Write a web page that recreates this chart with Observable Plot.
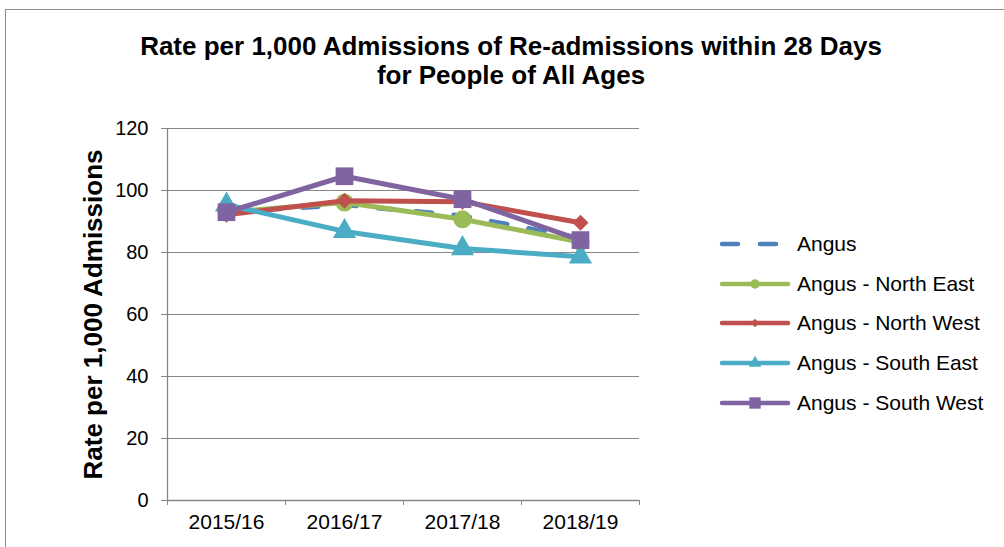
<!DOCTYPE html>
<html>
<head>
<meta charset="utf-8">
<script src="https://cdn.jsdelivr.net/npm/d3@7"></script>
<script src="https://cdn.jsdelivr.net/npm/@observablehq/plot@0.6"></script>
<style>
  html, body { margin: 0; padding: 0; background: #fff; overflow: hidden; }
  body { width: 1004px; height: 547px; position: relative; font-family: "Liberation Sans", Arial, sans-serif; }
  #frame { position: absolute; left: 5px; top: 9px; width: 1100px; height: 700px; border-left: 1px solid #8c8c8c; border-top: 1px solid #8c8c8c; }
  #title { position: absolute; left: 0; width: 1022px; top: 32px; text-align: center; font-weight: bold; font-size: 26px; line-height: 29px; color: #000; }
  #chart { position: absolute; left: 0; top: 0; }
  #legend { position: absolute; left: 700px; top: 220px; }
</style>
</head>
<body>
<div id="frame"></div>
<div id="chart"></div>
<div id="title">Rate per 1,000 Admissions of Re-admissions within 28 Days<br>for People of All Ages</div>
<div id="legend"></div>
<script>
const categories = ["2015/16", "2016/17", "2017/18", "2018/19"];
const seriesNames = ["Angus", "Angus - North East", "Angus - North West", "Angus - South East", "Angus - South West"];
const angus     = [93.0, 95.4, 91.8, 84.6];
const northEast = [93.0, 96.1, 90.7, 83.4];
const northWest = [92.2, 96.7, 96.4, 89.6];
const southEast = [95.4, 86.8, 81.3, 78.6];
const southWest = [93.0, 104.6, 97.2, 84.0];
const yTicks = [0, 20, 40, 60, 80, 100, 120];

const colors = ["#4F81BD", "#9BBB59", "#C0504D", "#4BACC6", "#8064A2"];
const symbols = [null, "circle", "diamond2", "triangle", "square"];
const radii = [0, 9, 7.2, 8.6, 10];
const allValues = [angus, northEast, northWest, southEast, southWest];

const data = [];
allValues.forEach((vals, s) => vals.forEach((v, i) => data.push({series: seriesNames[s], s, i, v})));

const marks = [
  Plot.gridY(yTicks, {stroke: "#868686", strokeOpacity: 1, strokeWidth: 1}),
  Plot.ruleX([-0.5], {stroke: "#868686", strokeWidth: 1.3}),
  Plot.ruleY([0], {stroke: "#868686", strokeWidth: 1.3}),
  Plot.axisY(yTicks, {tickSize: 6, tickPadding: 13, fontSize: 20, stroke: "#868686", label: null}),
  Plot.axisX([0, 1, 2, 3], {tickSize: 0, tickPadding: 14, fontSize: 21, tickFormat: i => categories[i], label: null}),
  Plot.axisX([-0.5, 0.5, 1.5, 2.5, 3.5], {tickSize: 5, tickFormat: () => "", stroke: "#868686", label: null}),
  Plot.text(["Rate per 1,000 Admissions"], {frameAnchor: "left", textAnchor: "middle", dx: -74, rotate: -90, fontSize: 26, fontWeight: "bold", fill: "#000"})
];
seriesNames.forEach((name, s) => {
  const d = data.filter(r => r.s === s);
  marks.push(Plot.line(d, {x: "i", y: "v", stroke: colors[s], strokeWidth: 5,
    strokeDasharray: s === 0 ? "16,22" : null, strokeLinecap: "round"}));
  if (symbols[s]) marks.push(Plot.dot(d, {x: "i", y: "v", symbol: () => symbols[s], fill: colors[s], stroke: "none", r: radii[s]}));
});

const plot = Plot.plot({
  width: 1004, height: 547,
  marginLeft: 167, marginRight: 365, marginTop: 128, marginBottom: 47,
  x: {type: "linear", domain: [-0.5, 3.5]},
  y: {domain: [0, 120]},
  style: {fontFamily: "'Liberation Sans', Arial, sans-serif", background: "transparent", color: "#000"},
  marks
});
document.getElementById("chart").appendChild(plot);

// legend
const rowsY = [24, 64, 103, 143, 183];
const lg = d3.select("#legend").append("svg").attr("width", 304).attr("height", 210)
  .style("font-family", "'Liberation Sans', Arial, sans-serif");
const symMap = {circle: d3.symbolCircle, diamond2: d3.symbolDiamond2, triangle: d3.symbolTriangle, square: d3.symbolSquare};
const legendSizes = [0, 70, 45, 70, 130];
seriesNames.forEach((name, s) => {
  const g = lg.append("g").attr("transform", `translate(0,${rowsY[s]})`);
  g.append("line").attr("x1", 22).attr("x2", 88).attr("y1", 0).attr("y2", 0)
    .attr("stroke", colors[s]).attr("stroke-width", 4.5).attr("stroke-linecap", "round")
    .attr("stroke-dasharray", s === 0 ? "16,22" : null);
  if (symbols[s]) {
    g.append("path").attr("d", d3.symbol(symMap[symbols[s]], legendSizes[s])()).attr("transform", "translate(55,0)").attr("fill", colors[s]);
  }
  g.append("text").attr("x", 97).attr("y", 0).attr("dy", "0.35em").attr("font-size", 21).attr("fill", "#000").text(name);
});
</script>
</body>
</html>
